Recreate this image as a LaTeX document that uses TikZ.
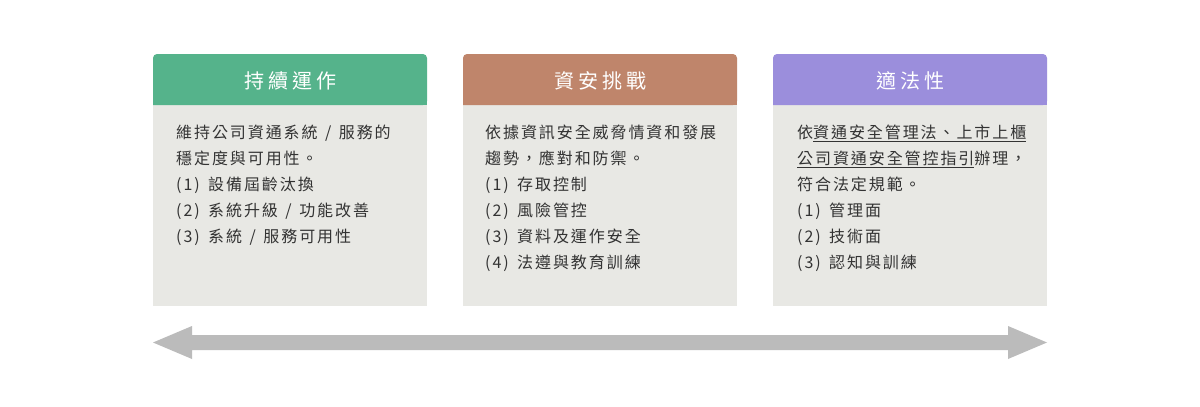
\documentclass[tikz,border=0pt]{standalone}
\usepackage{fontspec}
\usetikzlibrary{calc}
\setmainfont{Noto Sans CJK TC}
\newfontfamily\bodyfont{Noto Sans CJK TC}[LetterSpace=12]
\newfontfamily\titlefont{Noto Sans CJK TC}[LetterSpace=20]
\definecolor{cgreen}{HTML}{55B38B}
\definecolor{cbrown}{HTML}{BF856B}
\definecolor{cpurple}{HTML}{9B8EDC}
\definecolor{cbody}{HTML}{E8E8E4}
\definecolor{carrow}{HTML}{BBBBBB}
\definecolor{ctext}{HTML}{333333}
\newcommand{\bodylines}[1]{\begin{tabular}[t]{@{}l@{}}#1\end{tabular}}
\newcommand{\sgap}{\hspace{7.5pt}}
\newcommand{\pgap}{\hspace{8.5pt}}
\begin{document}
\begin{tikzpicture}[x=1pt,y=-1pt,
  bodybox/.style={fill=cbody,draw=none},
  titletext/.style={text=white,inner sep=0pt,font=\titlefont\fontsize{20}{24}\selectfont},
  bodytext/.style={text=ctext,inner sep=0pt,anchor=base west,font=\bodyfont\fontsize{16}{26}\selectfont}]
\useasboundingbox (0,0) rectangle (1200,407);
\fill[white] (0,0) rectangle (1200,407);
\foreach \x/\c in {153/cgreen,463/cbrown,773/cpurple}{
  \fill[bodybox] (\x,100) rectangle (\x+274,306);
  \fill[\c,rounded corners=4pt] (\x,105) -- (\x,54) -- (\x+274,54) -- (\x+274,105) [sharp corners] -- cycle;
  \fill[\c] (\x,95) rectangle (\x+274,105);
}
\node[titletext] (t1) at (290,80.5) {持續運作};
\node[titletext] (t2) at (600,80.5) {資安挑戰};
\node[titletext] (t3) at (910,80.5) {適法性};
\node[bodytext] (b1) at (176,138) {\bodylines{維持公司資通系統\sgap{}/\sgap{}服務的\\穩定度與可用性。\\(1)\pgap{}設備屆齡汰換\\(2)\pgap{}系統升級\sgap{}/\sgap{}功能改善\\(3)\pgap{}系統\sgap{}/\sgap{}服務可用性}};
\node[bodytext] (b2) at (485,138) {\bodylines{依據資訊安全威脅情資和發展\\趨勢，應對和防禦。\\(1)\pgap{}存取控制\\(2)\pgap{}風險管控\\(3)\pgap{}資料及運作安全\\(4)\pgap{}法遵與教育訓練}};
\node[bodytext] (b3) at (797,138) {\bodylines{依\underline{資通安全管理法、上市上櫃}\\\underline{公司資通安全管控指引}辦理，\\符合法定規範。\\(1)\pgap{}管理面\\(2)\pgap{}技術面\\(3)\pgap{}認知與訓練}};
\coordinate (al) at (153,342.5);
\coordinate (ar) at (1047,342.5);
\fill[carrow] (al) -- ++(39,-16.5) -- ++(0,9) -- ($(ar)+(-39,-7.5)$) -- ++(0,-9) -- (ar) -- ++(-39,16.5) -- ++(0,-9) -- ($(al)+(39,7.5)$) -- ++(0,9) -- cycle;
\end{tikzpicture}
\end{document}
